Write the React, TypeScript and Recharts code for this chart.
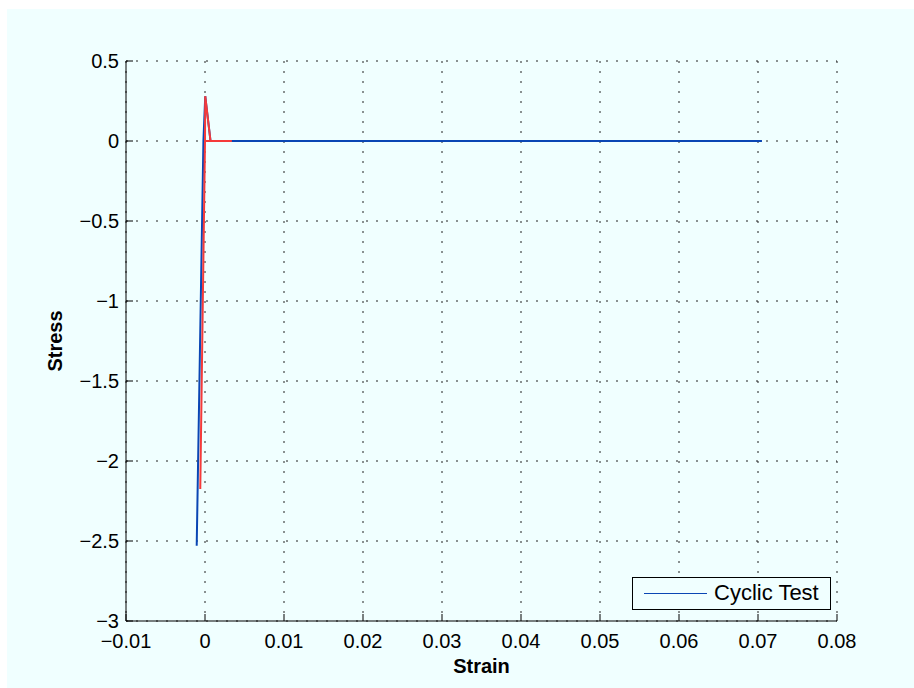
import React from 'react';
import { LineChart, Line, XAxis, YAxis, CartesianGrid, Legend, Label } from 'recharts';

// values
const blueStrain = [-0.00105, -0.0002, 0.00003, 0.0007, 0.0705];
const blueStress = [-2.53, 0, 0.28, 0, 0];
const redStrain = [-0.0006, 0, 0.0034, 0, 0.00003, 0.0007];
const redStress = [-2.175, 0, 0, 0, 0.28, 0];

const xTicks = [-0.01, 0, 0.01, 0.02, 0.03, 0.04, 0.05, 0.06, 0.07, 0.08];
const yTicks = [-3, -2.5, -2, -1.5, -1, -0.5, 0, 0.5];

const blueData = blueStrain.map((x, i) => ({ x, y: blueStress[i] }));
const redData = redStrain.map((x, i) => ({ x, y: redStress[i] }));

const FONT = '"Liberation Sans", Arial, Helvetica, sans-serif';
const BLUE = '#0a46b4';
const RED = '#f53a3a';
const BG = '#f0ffff';

const fmt = (v: number) => (v < 0 ? '\u2212' + String(-v) : String(v));

const BottomTick = ({ x, y, payload }: any) => (
    <g>
        <line x1={x} x2={x} y1={y} y2={y - 7} stroke="#000" />
        <text x={x} y={y + 27} textAnchor="middle" fontSize={20} fontFamily={FONT} fill="#000">
            {fmt(payload.value)}
        </text>
    </g>
);

const LeftTick = ({ x, y, payload }: any) => (
    <g>
        <line x1={x} x2={x + 7} y1={y} y2={y} stroke="#000" />
        <text x={x - 7} y={y + 7} textAnchor="end" fontSize={20} fontFamily={FONT} fill="#000">
            {fmt(payload.value)}
        </text>
    </g>
);

const TopTick = ({ x, y }: any) => <line x1={x} x2={x} y1={y} y2={y + 7} stroke="#000" />;
const RightTick = ({ x, y }: any) => <line x1={x - 7} x2={x} y1={y} y2={y} stroke="#000" />;

const LegendBox = () => (
    <div style={{ width: 199, height: 33, border: '1px solid #000', boxSizing: 'border-box', background: BG, position: 'relative', fontFamily: FONT }}>
        <div style={{ position: 'absolute', left: 11, top: 15, width: 63, height: 0, borderTop: `1px solid ${BLUE}` }} />
        <div style={{ position: 'absolute', left: 81, top: 3, fontSize: 22, lineHeight: '24px', color: '#000' }}>Cyclic Test</div>
    </div>
);

export default function App() {
    return (
        <div style={{ position: 'absolute', left: 7, top: 9, width: 907, height: 679, background: BG }}>
            <LineChart width={907} height={679} data={blueData} margin={{ top: 52, right: 77, bottom: 0, left: 0 }}>
                <CartesianGrid xAxisId="b" yAxisId="l" stroke="#222" strokeDasharray="2 8" />
                <XAxis xAxisId="b" dataKey="x" type="number" domain={[-0.01, 0.08]} ticks={xTicks} allowDataOverflow
                    height={67} tickSize={0} tickMargin={0} tickLine={false} tick={<BottomTick />} stroke="#000" interval={0}>
                    <Label content={({ viewBox }: any) => (
                        <text x={viewBox.x + viewBox.width / 2} y={viewBox.y + 52} textAnchor="middle" fontSize={20}
                            fontWeight="bold" fontFamily={FONT} fill="#000">Strain</text>
                    )} />
                </XAxis>
                <XAxis xAxisId="t" orientation="top" dataKey="x" type="number" domain={[-0.01, 0.08]} ticks={xTicks} allowDataOverflow
                    height={0} tickSize={0} tickMargin={0} tickLine={false} tick={<TopTick />} stroke="#000" interval={0}>
                    <Label content={({ viewBox }: any) => (
                        <text x={viewBox.x + viewBox.width / 2} y={viewBox.y - 17} textAnchor="middle" fontSize={20}
                            fontWeight="bold" fontFamily={FONT} fill="#000">Stress Strain Concrete</text>
                    )} />
                </XAxis>
                <YAxis yAxisId="l" type="number" domain={[-3, 0.5]} ticks={yTicks} allowDataOverflow
                    width={119} tickSize={0} tickMargin={0} tickLine={false} tick={<LeftTick />} stroke="#000" interval={0}>
                    <Label content={({ viewBox }: any) => {
                        const cx = viewBox.x + 48;
                        const cy = viewBox.y + viewBox.height / 2;
                        return (
                            <text x={cx} y={cy} transform={`rotate(-90 ${cx} ${cy})`} textAnchor="middle" dominantBaseline="central"
                                fontSize={20} fontWeight="bold" fontFamily={FONT} fill="#000">Stress</text>
                        );
                    }} />
                </YAxis>
                <YAxis yAxisId="r" orientation="right" type="number" domain={[-3, 0.5]} ticks={yTicks} allowDataOverflow
                    width={0} tickSize={0} tickMargin={0} tickLine={false} tick={<RightTick />} stroke="#000" interval={0} />
                <Legend layout="horizontal" verticalAlign="middle" content={<LegendBox />}
                    wrapperStyle={{ left: 625, top: 568, width: 199, height: 33 }} />
                <Line xAxisId="b" yAxisId="l" data={blueData} dataKey="y" name="Cyclic Test" stroke={BLUE} strokeWidth={2}
                    dot={false} isAnimationActive={false} />
                <Line xAxisId="b" yAxisId="l" data={redData} dataKey="y" name="red" stroke={RED} strokeWidth={2}
                    dot={false} isAnimationActive={false} legendType="none" />
            </LineChart>
        </div>
    );
}
